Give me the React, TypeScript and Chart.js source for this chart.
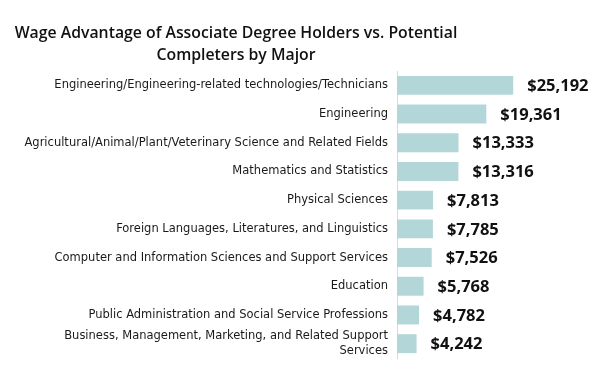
import React, { useEffect, useRef } from 'react';
import { Chart, registerables } from 'chart.js';

Chart.register(...registerables);

const categories: (string | string[])[] = [
  'Engineering/Engineering-related technologies/Technicians',
  'Engineering',
  'Agricultural/Animal/Plant/Veterinary Science and Related Fields',
  'Mathematics and Statistics',
  'Physical Sciences',
  'Foreign Languages, Literatures, and Linguistics',
  'Computer and Information Sciences and Support Services',
  'Education',
  'Public Administration and Social Service Professions',
  ['Business, Management, Marketing, and Related Support', 'Services'],
];

const wageAdvantage = [25192, 19361, 13333, 13316, 7813, 7785, 7526, 5768, 4782, 4242];

const titleLines = [
  'Wage Advantage of Associate Degree Holders vs. Potential',
  'Completers by Major',
];

const FONT = "'Open Sans', 'DejaVu Sans', sans-serif";
const TICK_FONT = "'DejaVu Sans', sans-serif";

const fmt = (v: number) => '$' + v.toLocaleString('en-US');

const titlePlugin = {
  id: 'customTitle',
  afterDraw(chart: any) {
    const ctx = chart.ctx;
    ctx.save();
    ctx.fillStyle = '#111111';
    ctx.font = `600 15.8px ${FONT}`;
    ctx.textAlign = 'center';
    ctx.textBaseline = 'alphabetic';
    ctx.fillText(titleLines[0], 236, 37.5);
    ctx.fillText(titleLines[1], 236, 59.5);
    ctx.restore();
  },
};

const valueLabelPlugin = {
  id: 'valueLabels',
  afterDatasetsDraw(chart: any) {
    const ctx = chart.ctx;
    const meta = chart.getDatasetMeta(0);
    ctx.save();
    ctx.fillStyle = '#111111';
    ctx.font = `bold 16.5px ${FONT}`;
    ctx.textAlign = 'left';
    ctx.textBaseline = 'middle';
    meta.data.forEach((bar: any, i: number) => {
      ctx.fillText(fmt(wageAdvantage[i]), bar.x + 14, bar.y + 1);
    });
    ctx.restore();
  },
};

export default function App() {
  const ref = useRef<HTMLCanvasElement | null>(null);
  useEffect(() => {
    if (!ref.current) return;
    const chart = new Chart(ref.current, {
      type: 'bar',
      data: {
        labels: categories,
        datasets: [
          {
            data: wageAdvantage,
            backgroundColor: '#b3d7d9',
            borderWidth: 0,
            categoryPercentage: 1,
            barPercentage: 0.66,
          },
        ],
      },
      options: {
        indexAxis: 'y',
        animation: false,
        responsive: false,
        maintainAspectRatio: false,
        layout: { padding: { top: 71, bottom: 32, left: 0, right: 13 } },
        plugins: {
          legend: { display: false },
          title: { display: false },
          tooltip: { enabled: false },
        },
        scales: {
          x: {
            display: false,
            min: 0,
            max: 44000,
          },
          y: {
            grid: { display: false, drawTicks: false },
            border: { display: true, color: '#d9d9d9', width: 1 },
            ticks: {
              autoSkip: false,
              padding: 9,
              color: '#1a1a1a',
              font: { family: TICK_FONT, size: 11.5, lineHeight: 1.25 },
            },
            afterFit: (scale: any) => {
              scale.width = 397;
            },
          },
        },
      },
      plugins: [titlePlugin, valueLabelPlugin],
    });
    return () => chart.destroy();
  }, []);
  return (
    <div style={{ position: 'fixed', left: 0, top: 0, width: 613, height: 390, background: '#ffffff' }}>
      <canvas ref={ref} width={613} height={390} style={{ width: 613, height: 390 }} />
    </div>
  );
}
